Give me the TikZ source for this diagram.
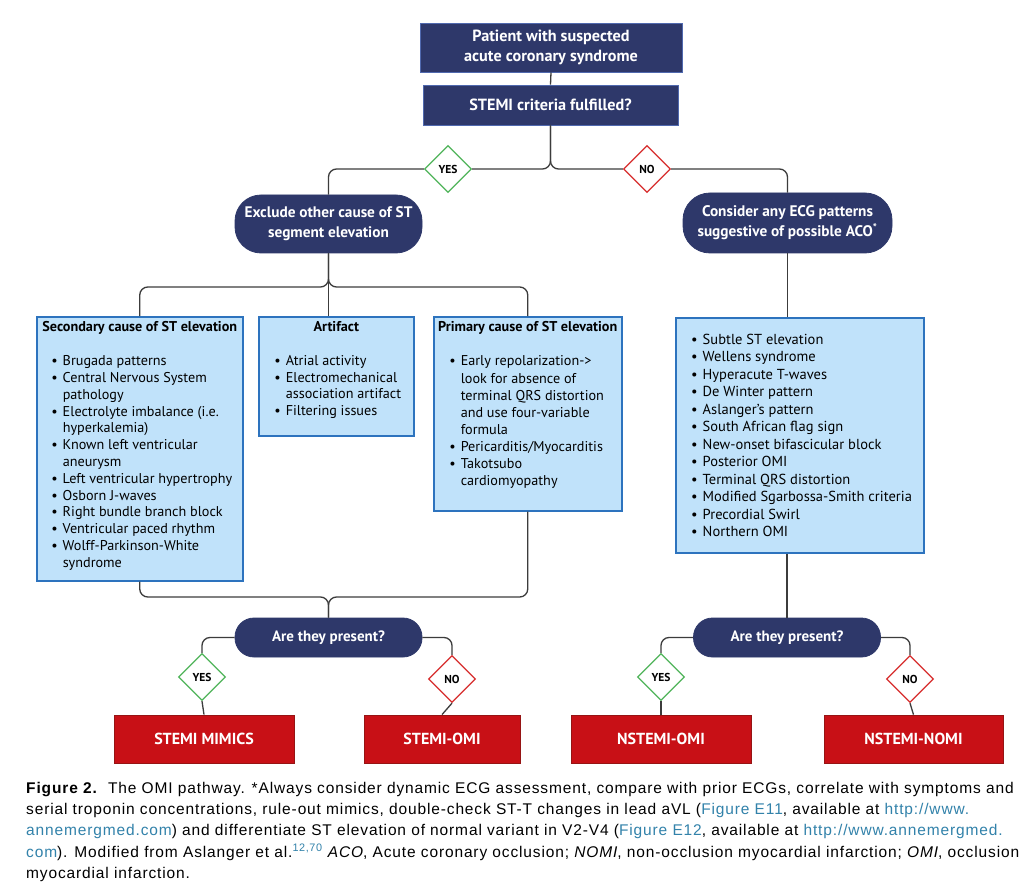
\documentclass[tikz,border=0pt]{standalone}
\usepackage{fontspec}
\setmainfont{PT Sans}
\newfontfamily\capfont[LetterSpace=5.6]{Liberation Sans}
\usetikzlibrary{shapes.geometric}
\definecolor{navy}{RGB}{46,56,106}
\definecolor{navyline}{RGB}{80,105,175}
\definecolor{bfill}{RGB}{192,226,250}
\definecolor{bline}{RGB}{45,115,190}
\definecolor{rfill}{RGB}{200,16,22}
\definecolor{rline}{RGB}{150,20,20}
\definecolor{gdia}{RGB}{80,180,90}
\definecolor{rdia}{RGB}{215,45,45}
\definecolor{conn}{RGB}{60,60,60}
\definecolor{lnk}{RGB}{50,130,170}
\newcommand\bi[1]{\par\noindent\llap{\textbullet\hspace{5pt}}\mbox{#1}}
\newcommand\bc[1]{\par\noindent\mbox{#1}}
\tikzset{
  navybox/.style={fill=navy, draw=navyline, line width=0.8pt, text=white, align=center, inner sep=0pt,
    font=\bfseries\fontsize{16.2}{20}\selectfont},
  pill/.style={navybox, draw=navy, rounded corners=#1, font=\bfseries\fontsize{15.3}{20}\selectfont},
  bluebox/.style={fill=bfill, draw=bline, line width=1.5pt, inner sep=0pt, anchor=north west},
  redbox/.style={fill=rfill, draw=rline, line width=0.8pt, text=white, inner sep=0pt,
    minimum height=48pt, font=\bfseries\fontsize{16}{18}\selectfont},
  dia/.style={shape=diamond, fill=white, draw=#1, line width=1.3pt, inner sep=0pt,
    minimum width=47pt, minimum height=47pt, font=\bfseries\fontsize{11.5}{13}\selectfont},
  cline/.style={draw=conn, line width=1.3pt, rounded corners=8pt},
}
\begin{document}
\begin{tikzpicture}[x=1pt,y=-1pt]
\useasboundingbox[fill=white] (0,0) rectangle (1034,896);

% top boxes
\node[navybox, minimum width=262pt, minimum height=49pt] (b1) at (551,47.5)
  {Patient with suspected\\acute coronary syndrome};
\node[navybox, minimum width=255pt, minimum height=40pt] (b2) at (550.5,105)
  {STEMI criteria fulfilled?};

\node[dia=gdia] (y1) at (448,169) {YES};
\node[dia=rdia] (n1) at (647,169) {NO};

\node[pill=26pt, minimum width=187pt, minimum height=58pt] (excl) at (328.5,224)
  {Exclude other cause of ST\\segment elevation};
\node[pill=27pt, minimum width=209pt, minimum height=60pt] (cons) at (787.5,223)
  {Consider any ECG patterns\\suggestive of possible ACO\textsuperscript{*}};

% blue boxes
\node[bluebox] (sec) at (36,316) {\begin{minipage}[t][264pt][t]{206pt}
\fontsize{14.2}{16.8}\selectfont\vspace*{5pt}
{\centering\bfseries Secondary cause of ST elevation\par}
\vspace{17pt}
\raggedright\leftskip=26pt\parindent=0pt
\bi{Brugada patterns}
\bi{Central Nervous System}
\bc{pathology}
\bi{Electrolyte imbalance (i.e.}
\bc{hyperkalemia)}
\bi{Known left ventricular}
\bc{aneurysm}
\bi{Left ventricular hypertrophy}
\bi{Osborn J-waves}
\bi{Right bundle branch block}
\bi{Ventricular paced rhythm}
\bi{Wolff-Parkinson-White}
\bc{syndrome}\par
\end{minipage}};

\node[bluebox] (art) at (258,316) {\begin{minipage}[t][119pt][t]{155pt}
\fontsize{14.2}{16.7}\selectfont\vspace*{5pt}
{\centering\bfseries Artifact\par}
\vspace{17pt}
\raggedright\leftskip=27pt\parindent=0pt
\bi{Atrial activity}
\bi{Electromechanical}
\bc{association artifact}
\bi{Filtering issues}\par
\end{minipage}};

\node[bluebox] (prim) at (433,316) {\begin{minipage}[t][194pt][t]{188pt}
\fontsize{14.2}{17.1}\selectfont\vspace*{5pt}
{\centering\bfseries Primary cause of ST elevation\par}
\vspace{17pt}
\raggedright\leftskip=27pt\parindent=0pt
\bi{Early repolarization->}
\bc{look for absence of}
\bc{terminal QRS distortion}
\bc{and use four-variable}
\bc{formula}
\bi{Pericarditis/Myocarditis}
\bi{Takotsubo}
\bc{cardiomyopathy}\par
\end{minipage}};

\node[bluebox] (rbox) at (675,317) {\begin{minipage}[t][235pt][t]{248pt}
\fontsize{14.5}{17.5}\selectfont\vspace*{16pt}
\raggedright\leftskip=27pt\parindent=0pt
\bi{Subtle ST elevation}
\bi{Wellens syndrome}
\bi{Hyperacute T-waves}
\bi{De Winter pattern}
\bi{Aslanger’s pattern}
\bi{South African flag sign}
\bi{New-onset bifascicular block}
\bi{Posterior OMI}
\bi{Terminal QRS distortion}
\bi{Modified Sgarbossa-Smith criteria}
\bi{Precordial Swirl}
\bi{Northern OMI}\par
\end{minipage}};

% lower pills
\node[pill=19pt, minimum width=187pt, minimum height=39pt, font=\bfseries\fontsize{15}{18}\selectfont] (pl) at (328.5,637.5) {Are they present?};
\node[pill=19pt, minimum width=187pt, minimum height=39pt, font=\bfseries\fontsize{15}{18}\selectfont] (pr) at (787,637.5) {Are they present?};

\node[dia=gdia] (y2) at (202,677) {YES};
\node[dia=rdia] (n2) at (452,679) {NO};
\node[dia=gdia] (y3) at (661,677) {YES};
\node[dia=rdia] (n3) at (910,679) {NO};

\node[redbox, minimum width=180pt] (mim) at (204,739) {STEMI MIMICS};
\node[redbox, minimum width=156pt] (somi) at (442,739) {STEMI-OMI};
\node[redbox, minimum width=180pt] (nomi) at (661,739) {NSTEMI-OMI};
\node[redbox, minimum width=179pt] (nnomi) at (913.5,739) {NSTEMI-NOMI};

% connectors
\coordinate (j1) at (328.5,287);
\coordinate (j2) at (328.5,597);
\draw[cline] (b1.south) -- (b2.north);
\draw[cline] (b2.south) |- (y1.east);
\draw[cline] (b2.south) |- (n1.west);
\draw[cline] (y1.west) -| (excl.north);
\draw[cline] (n1.east) -| (cons.north);
\draw[cline] (excl.south) -- (j1) -| (sec.north);
\draw[cline] (excl.south) -- (j1) -| (prim.north);
\draw[cline] (excl.south) -- (excl.south |- art.north);
\draw[cline] (cons.south) -- (cons.south |- rbox.north);
\draw[cline] (sec.south) |- (j2) -- (pl.north);
\draw[cline] (prim.south) |- (j2) -- (pl.north);
\draw[cline] (pr.north |- rbox.south) -- (pr.north);
\draw[cline] (pl.west) -| (y2.north);
\draw[cline] (pl.east) -| (n2.north);
\draw[cline] (pr.west) -| (y3.north);
\draw[cline] (pr.east) -| (n3.north);
\draw[cline] (y2.south) -- (mim.north);
\draw[cline] (n2.south) -- (somi.north);
\draw[cline] (y3.south) -- (nomi.north);
\draw[cline] (n3.south) -- (nnomi.north);

% caption
\node[anchor=north west, inner sep=0pt, align=left, font=\capfont\fontsize{15.5}{21.2}\selectfont] (cap) at (26,782)
{\textbf{Figure 2.}\ \ The OMI pathway. *Always consider dynamic ECG assessment, compare with prior ECGs, correlate with symptoms and\\
serial troponin concentrations, rule-out mimics, double-check ST-T changes in lead aVL ({\color{lnk}Figure E11}, available at {\color{lnk}http://www.}\\
{\color{lnk}annemergmed.com}) and differentiate ST elevation of normal variant in V2-V4 ({\color{lnk}Figure E12}, available at {\color{lnk}http://www.annemergmed.}\\
{\color{lnk}com}). Modified from Aslanger et al.\textsuperscript{\color{lnk}12,70} \textit{ACO}, Acute coronary occlusion; \textit{NOMI}, non-occlusion myocardial infarction; \textit{OMI}, occlusion\\
myocardial infarction.};
\end{tikzpicture}
\end{document}
